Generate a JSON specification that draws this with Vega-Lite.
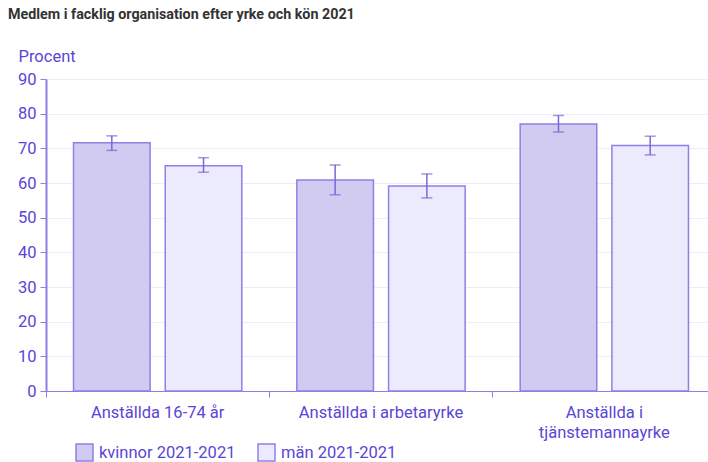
{
  "$schema": "https://vega.github.io/schema/vega-lite/v6.json",
  "width": 670,
  "height": 312,
  "autosize": {"type": "none"},
  "padding": {"left": 46, "top": 79, "right": 0, "bottom": 71},
  "background": "white",
  "title": {"text": "Medlem i facklig organisation efter yrke och kön 2021", "anchor": "start", "frame": "group", "dx": -38, "offset": 26, "font": "Roboto", "fontSize": 14.3, "fontWeight": "bold", "color": "#333333"},
  "config": {"view": {"stroke": null}, "font": "Roboto"},
  "data": {"values": [
    {"grupp": "Anställda 16-74 år", "kon": "kvinnor 2021-2021", "procent": 71.6, "lo": 69.4, "hi": 73.6},
    {"grupp": "Anställda 16-74 år", "kon": "män 2021-2021", "procent": 65.0, "lo": 63.1, "hi": 67.3},
    {"grupp": "Anställda i arbetaryrke", "kon": "kvinnor 2021-2021", "procent": 60.9, "lo": 56.6, "hi": 65.2},
    {"grupp": "Anställda i arbetaryrke", "kon": "män 2021-2021", "procent": 59.1, "lo": 55.7, "hi": 62.6},
    {"grupp": "Anställda i tjänstemannayrke", "kon": "kvinnor 2021-2021", "procent": 77.0, "lo": 74.7, "hi": 79.5},
    {"grupp": "Anställda i tjänstemannayrke", "kon": "män 2021-2021", "procent": 70.8, "lo": 68.1, "hi": 73.5}
  ]},
  "encoding": {
    "x": {"field": "grupp", "type": "nominal", "sort": null, "scale": {"paddingInner": 0, "paddingOuter": 0},
      "axis": {"title": null, "labelAngle": 0, "bandPosition": 0, "tickSize": 6, "domainColor": "#8d7fe3", "tickColor": "#8d7fe3", "labelColor": "#5a45d6", "labelFontSize": 16.5, "labelPadding": 7, "labelBaseline": "top", "labelLineHeight": 20,
        "labelExpr": "datum.label == 'Anställda i tjänstemannayrke' ? ['Anställda i', 'tjänstemannayrke'] : datum.label"}},
    "xOffset": {"field": "kon", "type": "nominal", "scale": {"paddingInner": 0.165, "paddingOuter": 0.3}}
  },
  "layer": [
    {
      "mark": {"type": "bar", "stroke": "#8f80e6", "strokeWidth": 1.5},
      "encoding": {
        "y": {"field": "procent", "type": "quantitative", "scale": {"domain": [0, 90], "nice": false},
          "axis": {"title": "Procent", "titleAngle": 0, "titleAlign": "left", "titleBaseline": "alphabetic", "titleX": -28, "titleY": -18, "titleFontSize": 16.5, "titleFontWeight": "normal", "titleColor": "#5a45d6",
            "values": [0,10,20,30,40,50,60,70,80,90], "labelOverlap": false, "labelFontSize": 16.5, "labelColor": "#5a45d6", "labelPadding": 4, "tickSize": 6, "tickColor": "#8d7fe3", "domainColor": "#8d7fe3", "domainWidth": 2, "gridColor": "#eeecfb", "grid": true}},
        "fill": {"field": "kon", "type": "nominal", "scale": {"range": ["#d1cbf2", "#eceafd"]},
          "legend": {"title": null, "orient": "none", "direction": "horizontal", "legendX": 29, "legendY": 364, "symbolType": "square", "symbolSize": 289, "symbolStrokeColor": "#8f80e6", "symbolStrokeWidth": 1.5, "labelFontSize": 16.5, "labelColor": "#5a45d6", "columnPadding": 19, "labelOffset": 5}}
      }
    },
    {
      "mark": {"type": "rule", "color": "#7a68d8", "strokeWidth": 1.5},
      "encoding": {"y": {"field": "lo", "type": "quantitative", "axis": {"title": "Procent", "titleAngle": 0, "titleAlign": "left", "titleBaseline": "alphabetic", "titleX": -28, "titleY": -18, "titleFontSize": 16.5, "titleFontWeight": "normal", "titleColor": "#5a45d6",
            "values": [0,10,20,30,40,50,60,70,80,90], "labelOverlap": false, "labelFontSize": 16.5, "labelColor": "#5a45d6", "labelPadding": 4, "tickSize": 6, "tickColor": "#8d7fe3", "domainColor": "#8d7fe3", "domainWidth": 2, "gridColor": "#eeecfb", "grid": true}}, "y2": {"field": "hi"}}
    },
    {
      "mark": {"type": "tick", "color": "#7a68d8", "thickness": 1.5, "size": 11},
      "encoding": {"y": {"field": "lo", "type": "quantitative", "axis": {"title": "Procent", "titleAngle": 0, "titleAlign": "left", "titleBaseline": "alphabetic", "titleX": -28, "titleY": -18, "titleFontSize": 16.5, "titleFontWeight": "normal", "titleColor": "#5a45d6",
            "values": [0,10,20,30,40,50,60,70,80,90], "labelOverlap": false, "labelFontSize": 16.5, "labelColor": "#5a45d6", "labelPadding": 4, "tickSize": 6, "tickColor": "#8d7fe3", "domainColor": "#8d7fe3", "domainWidth": 2, "gridColor": "#eeecfb", "grid": true}}}
    },
    {
      "mark": {"type": "tick", "color": "#7a68d8", "thickness": 1.5, "size": 11},
      "encoding": {"y": {"field": "hi", "type": "quantitative", "axis": {"title": "Procent", "titleAngle": 0, "titleAlign": "left", "titleBaseline": "alphabetic", "titleX": -28, "titleY": -18, "titleFontSize": 16.5, "titleFontWeight": "normal", "titleColor": "#5a45d6",
            "values": [0,10,20,30,40,50,60,70,80,90], "labelOverlap": false, "labelFontSize": 16.5, "labelColor": "#5a45d6", "labelPadding": 4, "tickSize": 6, "tickColor": "#8d7fe3", "domainColor": "#8d7fe3", "domainWidth": 2, "gridColor": "#eeecfb", "grid": true}}}
    }
  ]
}
